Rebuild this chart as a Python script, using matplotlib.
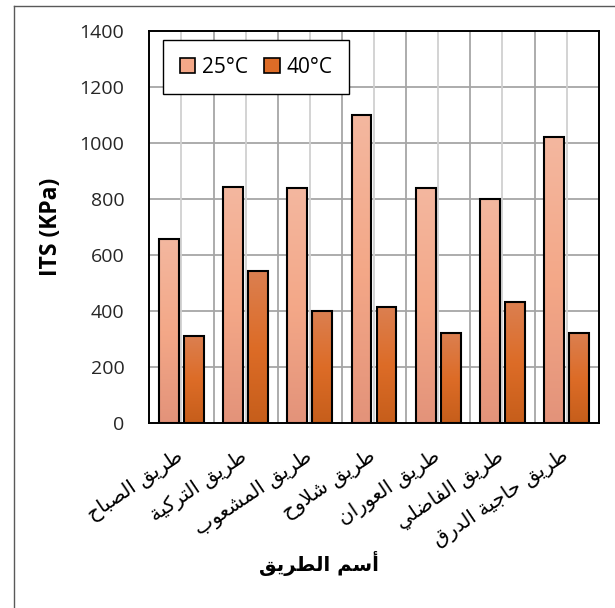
import matplotlib
matplotlib.use("Agg")
import matplotlib.pyplot as plt
import numpy as np
from matplotlib.patches import Rectangle, Patch
from matplotlib.lines import Line2D
from matplotlib.colors import LinearSegmentedColormap

# data
roads = ["طريق الصباح", "طريق التركية", "طريق المشعوب", "طريق شلاوح",
         "طريق العوران", "طريق الفاضلي", "طريق حاجية الدرق"]
its_25 = [655, 840, 837, 1100, 837, 799, 1021]
its_40 = [308, 542, 400, 414, 319, 430, 319]
series_names = ["25°C", "40°C"]
y_ticks = [0, 200, 400, 600, 800, 1000, 1200, 1400]
x_title = "أسم الطريق"
y_title = "ITS (KPa)"

# simple arabic shaping (matplotlib has no shaping engine)
AR = {'ا': (0xFE8D, 2), 'أ': (0xFE83, 2), 'ب': (0xFE8F, 4), 'ة': (0xFE93, 2),
      'ت': (0xFE95, 4), 'ج': (0xFE9D, 4), 'ح': (0xFEA1, 4), 'د': (0xFEA9, 2),
      'ر': (0xFEAD, 2), 'س': (0xFEB1, 4), 'ش': (0xFEB5, 4), 'ص': (0xFEB9, 4),
      'ض': (0xFEBD, 4), 'ط': (0xFEC1, 4), 'ع': (0xFEC9, 4), 'ف': (0xFED1, 4),
      'ق': (0xFED5, 4), 'ك': (0xFED9, 4), 'ل': (0xFEDD, 4), 'م': (0xFEE1, 4),
      'ن': (0xFEE5, 4), 'و': (0xFEED, 2), 'ي': (0xFEF1, 4),
      'LA': (0xFEFB, 2), 'LAH': (0xFEF7, 2)}


def shape(s):
    toks = []
    i = 0
    while i < len(s):
        if s[i] == 'ل' and i + 1 < len(s) and s[i + 1] in 'اأ':
            toks.append('LA' if s[i + 1] == 'ا' else 'LAH')
            i += 2
        else:
            toks.append(s[i])
            i += 1
    out = []
    for k, t in enumerate(toks):
        if t not in AR:
            out.append(t)
            continue
        base, n = AR[t]
        prev = toks[k - 1] if k > 0 else None
        nxt = toks[k + 1] if k + 1 < len(toks) else None
        jp = prev in AR and AR[prev][1] == 4
        jn = n == 4 and nxt in AR
        out.append(chr(base + (1 if jp else 0) + (2 if jn else 0)))
    return ''.join(reversed(out))


W, H = 615, 608
fig = plt.figure(figsize=(W / 100, H / 100), dpi=100)
ax = fig.add_axes([149.3 / W, 1 - 422.7 / H, 449.4 / W, 392 / H])

x = np.arange(len(roads))
bw = 0.31
off = 0.194

grad_25 = ["#f3b79f", "#f4a888", "#e3937a"]
grad_40 = ["#db7f50", "#dd6c27", "#c65e1b"]


def grad_bar(xc, h, cols):
    cm = LinearSegmentedColormap.from_list("g", cols)
    g = np.linspace(0, 1, 100).reshape(-1, 1)
    im = ax.imshow(g, cmap=cm, aspect="auto", extent=(xc - bw / 2, xc + bw / 2, 0, h),
                   origin="upper", zorder=2, interpolation="bilinear")
    r = Rectangle((xc - bw / 2, 0), bw, h, facecolor="none", edgecolor="black",
                  linewidth=1.5, zorder=3)
    ax.add_patch(r)
    im.set_clip_path(r)


for i in x:
    grad_bar(i - off, its_25[i], grad_25)
    grad_bar(i + off, its_40[i], grad_40)

ax.set_xlim(-0.5, len(roads) - 0.5)
ax.set_ylim(0, 1400)

# grid
for yv in y_ticks[1:-1]:
    ax.axhline(yv, color="#a6a6a6", lw=1.3, zorder=1)
for k in range(1, len(roads)):
    ax.axvline(k - 0.5, color="#a6a6a6", lw=1.3, zorder=1)
for k in x:
    ax.axvline(k, color="#d0d0d0", lw=1.3, zorder=1)

for s in ax.spines.values():
    s.set_linewidth(1.4)
    s.set_color("black")

ax.set_yticks(y_ticks)
ax.set_yticklabels([str(v) for v in y_ticks], fontsize=14, family="Open Sans", color="#262626")
ax.tick_params(axis="y", length=0, pad=18)
ax.set_xticks([])
ax.set_ylabel(y_title, fontsize=16.5, fontweight="bold", family="Open Sans", labelpad=12)

for i, name in enumerate(roads):
    ax.annotate(shape(name), xy=(i - 0.09, 0), xycoords=("data", "axes fraction"),
                xytext=(0, -17), textcoords="offset points", rotation=34,
                rotation_mode="anchor", ha="right", va="top", fontsize=14.5,
                family="DejaVu Sans")

fig.text(319 / W, 1 - 563 / H, shape(x_title), fontsize=14.2, fontweight="bold",
         family="DejaVu Sans", ha="center", va="center")

handles = [Patch(facecolor=grad_25[1], edgecolor="black", linewidth=1.2),
           Patch(facecolor=grad_40[1], edgecolor="black", linewidth=1.2)]
leg = ax.legend(handles, series_names, loc="upper left", ncol=2,
                bbox_to_anchor=(163 / W, 1 - 40 / H), bbox_transform=fig.transFigure,
                borderaxespad=0, fancybox=False, framealpha=1, edgecolor="black",
                prop={"family": "Open Sans", "size": 15}, handlelength=0.75,
                handleheight=0.75, handletextpad=0.3, columnspacing=0.8,
                borderpad=0.8)
leg.get_frame().set_linewidth(1.0)
leg.set_zorder(5)

# chart area border (only left and top visible)
fig.add_artist(Line2D([13.5 / W, 13.5 / W], [0, 1 - 6 / H], color="#595959", lw=1.0,
                      transform=fig.transFigure))
fig.add_artist(Line2D([13.5 / W, 1], [1 - 6 / H, 1 - 6 / H], color="#595959", lw=1.0,
                      transform=fig.transFigure))

fig.savefig("out.png", dpi=100)
